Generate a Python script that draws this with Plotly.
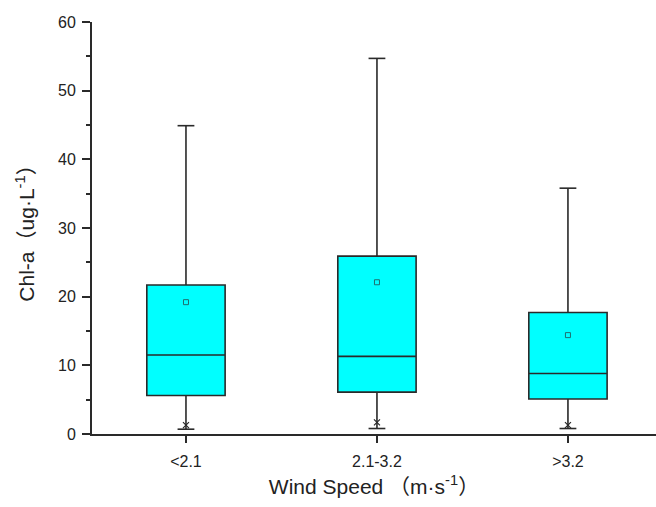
import plotly.graph_objects as go

categories = ["<2.1", "2.1-3.2", ">3.2"]
q1 = [5.6, 6.1, 5.1]
median = [11.5, 11.3, 8.8]
q3 = [21.7, 25.9, 17.7]
lower_whisker = [0.7, 0.8, 0.8]
upper_whisker = [44.9, 54.7, 35.8]
mean = [19.2, 22.1, 14.4]
p1 = [1.3, 1.7, 1.3]

LINE = "#2a2a2a"
FONT = "Liberation Sans, Arial, Noto Sans CJK SC, sans-serif"

fig = go.Figure()
fig.add_trace(go.Box(
    x=categories, q1=q1, median=median, q3=q3,
    lowerfence=lower_whisker, upperfence=upper_whisker,
    fillcolor="#00FFFF", line=dict(color=LINE, width=1.6),
    width=0.41, boxpoints=False, whiskerwidth=0, showlegend=False,
))
# whisker caps
fig.add_trace(go.Scatter(
    x=categories + categories, y=upper_whisker + lower_whisker, mode="markers",
    marker=dict(symbol="line-ew", size=12, color=LINE, line=dict(color=LINE, width=1.6)),
    showlegend=False, hoverinfo="skip",
))
# mean markers
fig.add_trace(go.Scatter(
    x=categories, y=mean, mode="markers",
    marker=dict(symbol="square-open", size=5, color="#1f6f6f", line=dict(color="#1f6f6f", width=1)),
    showlegend=False,
))
# 1% markers
fig.add_trace(go.Scatter(
    x=categories, y=p1, mode="markers",
    marker=dict(symbol="x-thin-open", size=6, color=LINE, line=dict(color=LINE, width=1.2)),
    showlegend=False,
))

fig.update_layout(
    width=656, height=507,
    margin=dict(l=92, r=0, t=22, b=73),
    paper_bgcolor="white", plot_bgcolor="white",
    font=dict(family=FONT, size=16, color="#222222"),
    xaxis=dict(
        type="category", range=[-0.492, 2.461],
        showline=True, linecolor=LINE, linewidth=2,
        ticks="outside", ticklen=7, tickwidth=2, tickcolor=LINE,
        showgrid=False, zeroline=False,
        tickfont=dict(size=16), ticklabelstandoff=5,
        title=dict(text="Wind Speed （m·s<sup>-1</sup>）", font=dict(size=21), standoff=10),
    ),
    yaxis=dict(
        range=[0, 60], tickvals=[0, 10, 20, 30, 40, 50, 60],
        showline=True, linecolor=LINE, linewidth=2,
        ticks="outside", ticklen=8, tickwidth=2, tickcolor=LINE,
        minor=dict(dtick=5, ticks="outside", ticklen=4, tickwidth=2, tickcolor=LINE),
        showgrid=False, zeroline=False,
        tickfont=dict(size=16), ticklabelstandoff=3,
        title=dict(text="Chl-a（ug·L<sup>-1</sup>）", font=dict(size=21), standoff=18),
    ),
)

fig.write_html("out.html")
